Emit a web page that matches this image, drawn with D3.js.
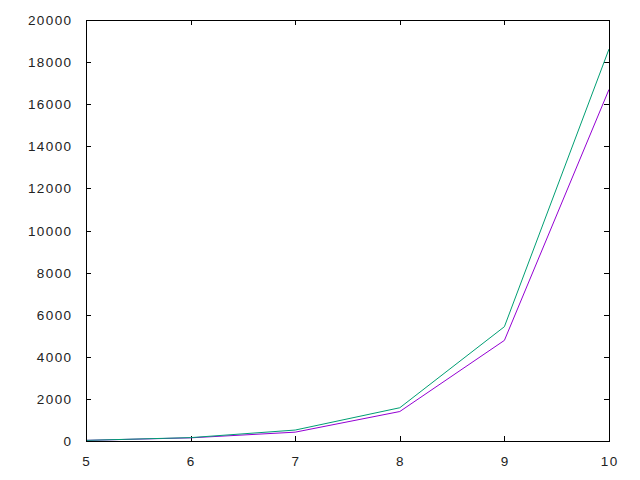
<!DOCTYPE html>
<html><head><meta charset="utf-8">
<script src="https://cdn.jsdelivr.net/npm/d3@7"></script>
<style>body{margin:0;background:#fff}svg{display:block}text{font-family:"Liberation Sans",Arial,sans-serif;font-size:13.5px;letter-spacing:1.4px;fill:#222}</style>
</head><body><svg id="c" width="640" height="480"></svg>
<script>
const xValues = [5, 6, 7, 8, 9, 10];
const series1 = [30, 150, 420, 1400, 4780, 16700];
const series2 = [30, 160, 520, 1580, 5430, 18620];
const xTicks = [5, 6, 7, 8, 9, 10];
const yTicks = [0, 2000, 4000, 6000, 8000, 10000, 12000, 14000, 16000, 18000, 20000];

const svg = d3.select("#c");
const L = 86, R = 609, T = 20, B = 441;
const x = d3.scaleLinear().domain([5, 10]).range([L, R]);
const y = d3.scaleLinear().domain([0, 20000]).range([B, T]);
const tl = 5;

const g = svg.append("g");
xTicks.forEach(v => {
  const px = Math.round(x(v)) + 0.5;
  if (v !== 5 && v !== 10) {
    g.append("line").attr("x1", px).attr("x2", px).attr("y1", B).attr("y2", B - tl).attr("stroke", "#000");
    g.append("line").attr("x1", px).attr("x2", px).attr("y1", T).attr("y2", T + tl).attr("stroke", "#000");
  }
  g.append("text").attr("x", x(v) + 0.7).attr("y", 466).attr("text-anchor", "middle").text(v);
});
yTicks.forEach(v => {
  const py = Math.round(y(v)) + 0.5;
  if (v !== 0 && v !== 20000) {
    g.append("line").attr("x1", L).attr("x2", L + tl).attr("y1", py).attr("y2", py).attr("stroke", "#000");
    g.append("line").attr("x1", R).attr("x2", R - tl).attr("y1", py).attr("y2", py).attr("stroke", "#000");
  }
  g.append("text").attr("x", 72.5).attr("y", y(v) + 5).attr("text-anchor", "end").text(v);
});

const line = d3.line().x((d, i) => x(xValues[i])).y(d => y(d));
svg.append("path").datum(series1).attr("d", line).attr("fill", "none").attr("stroke", "#9400d3").attr("stroke-width", 1);
svg.append("path").datum(series2).attr("d", line).attr("fill", "none").attr("stroke", "#009e73").attr("stroke-width", 1);

svg.append("rect").attr("x", L + 0.5).attr("y", T + 0.5).attr("width", R - L).attr("height", B - T)
  .attr("fill", "none").attr("stroke", "#000").attr("stroke-width", 1);
</script></body></html>
